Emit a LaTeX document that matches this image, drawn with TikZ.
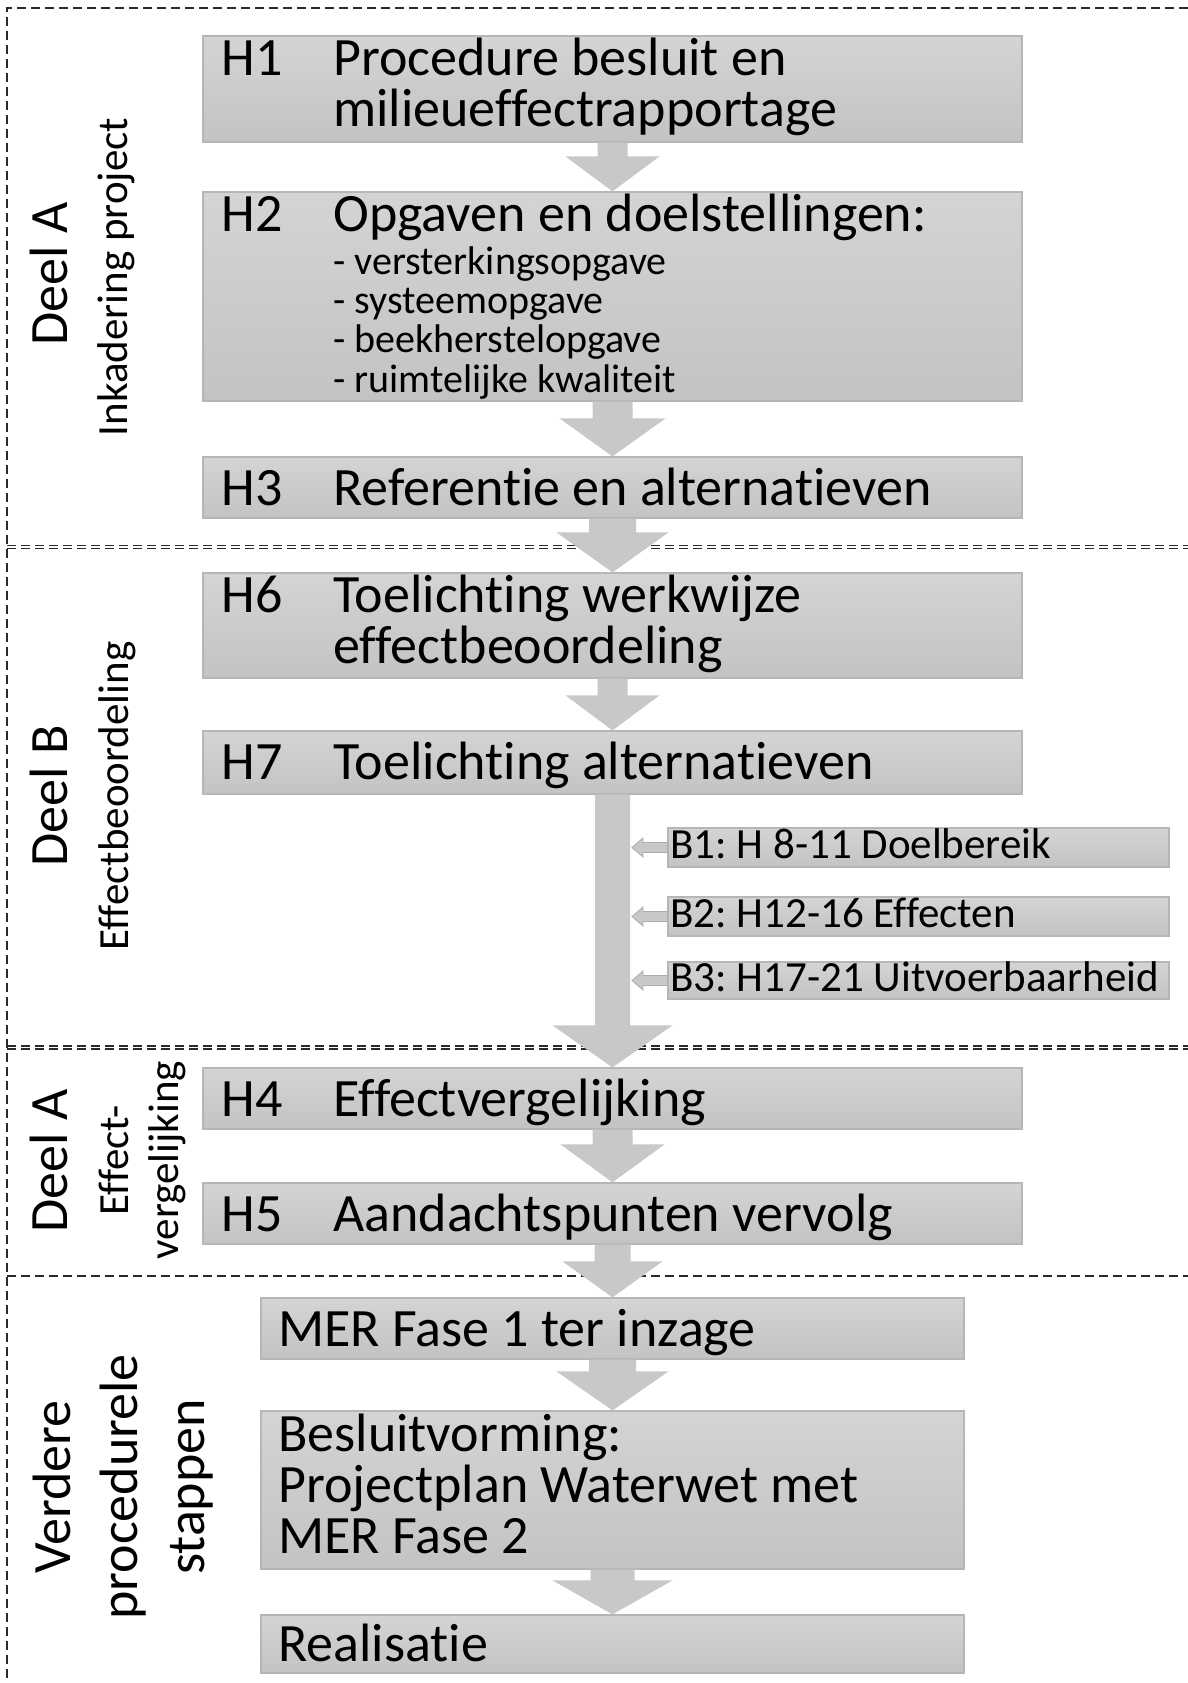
\documentclass[tikz,border=0pt]{standalone}
\usepackage{fontspec}
\setmainfont{Carlito}[Ligatures=NoCommon]
\usetikzlibrary{calc,fit}
\frenchspacing

\definecolor{boxtop}{HTML}{D4D4D4}
\definecolor{boxbot}{HTML}{C3C3C3}
\definecolor{boxline}{HTML}{B6B6B6}
\definecolor{arrowfill}{HTML}{C8C8C8}
\definecolor{arrowline}{HTML}{ADADAD}
\definecolor{frameline}{HTML}{2A2A2A}

\tikzset{
  frame/.style={draw=frameline, line width=0.65pt, dash pattern=on 4.5pt off 2.5pt},
  stepbox/.style={draw=boxline, line width=0.6pt, top color=boxtop, bottom color=boxbot, inner sep=0pt},
  maintext/.style={font=\fontsize{27}{25.5}\selectfont, inner sep=0pt, anchor=base west, align=left},
  subtext/.style={font=\fontsize{20}{19.6}\selectfont, inner sep=0pt, anchor=base west, align=left},
  btext/.style={font=\fontsize{21.5}{24}\selectfont, inner sep=0pt, anchor=base west},
  sidebig/.style={font=\fontsize{27}{33.5}\selectfont, inner sep=0pt, anchor=base, rotate=90, align=center},
  sidesmall/.style={font=\fontsize{21.5}{25}\selectfont, inner sep=0pt, anchor=base, rotate=90, align=center},
  arrowbody/.style={fill=arrowfill},
  smallarrow/.style={fill=arrowfill, draw=arrowline, line width=0.4pt},
}

% block arrow from the bottom of one box to the top of the next
% #1 from, #2 to, #3 shaft half width, #4 head half width, #5 head length (px)
\newcommand\fatarrow[5]{%
  \fill[arrowbody] let \p1=(#1.south), \p2=(#2.north) in
    ({\x1-#3*0.5pt},\y1) -- ({\x1+#3*0.5pt},\y1)
    -- ({\x1+#3*0.5pt},{\y2+#5*0.5pt}) -- ({\x1+#4*0.5pt},{\y2+#5*0.5pt})
    -- (\x1,\y2)
    -- ({\x1-#4*0.5pt},{\y2+#5*0.5pt}) -- ({\x1-#3*0.5pt},{\y2+#5*0.5pt}) -- cycle;
}
% small arrow from the left side of a side box to a tip coordinate
\newcommand\sidearrow[2]{%
  \filldraw[smallarrow] let \p1=(#1.west), \p2=(#2) in
    (\x1,{\y1+2.5pt}) -- ({\x2+5.5pt},{\y1+2.5pt}) -- ({\x2+5.5pt},{\y1+4.75pt})
    -- (\x2,\y1)
    -- ({\x2+5.5pt},{\y1-4.75pt}) -- ({\x2+5.5pt},{\y1-2.5pt}) -- (\x1,{\y1-2.5pt}) -- cycle;
}

\begin{document}
\begin{tikzpicture}[x=0.5pt,y=-0.5pt]
\useasboundingbox (0,0) rectangle (1188,1683);

% dashed section frames
\draw[frame] (1188,8) -- (7,8) -- (7,1683);
\draw[frame] (7,545.5) -- (1188,545.5);
\draw[frame] (7,548.5) -- (1188,548.5);
\draw[frame] (7,1046) -- (1188,1046);
\draw[frame] (7,1049) -- (1188,1049);
\draw[frame] (7,1276) -- (1188,1276);

% chapter boxes
\node[stepbox, fit={(203,36) (1022,142)}] (h1) {};
\node[stepbox, fit={(203,192) (1022,401)}] (h2) {};
\node[stepbox, fit={(203,457) (1022,518)}] (h3) {};
\node[stepbox, fit={(203,573) (1022,678)}] (h6) {};
\node[stepbox, fit={(203,731) (1022,794)}] (h7) {};
\node[stepbox, fit={(203,1068) (1022,1129)}] (h4) {};
\node[stepbox, fit={(203,1183) (1022,1244)}] (h5) {};
\node[stepbox, fit={(261,1298) (964,1359)}] (mer) {};
\node[stepbox, fit={(261,1411) (964,1569)}] (bes) {};
\node[stepbox, fit={(261,1615) (964,1673)}] (real) {};
\node[stepbox, fit={(668,828) (1169,867)}] (b1) {};
\node[stepbox, fit={(668,897) (1169,936)}] (b2) {};
\node[stepbox, fit={(668,962) (1169,999)}] (b3) {};

% box texts (multi-line texts are placed by the baseline of their last line)
\node[maintext] (h1l) at (221,75) {H1};
\node[maintext] (h1t) at (333,126) {Procedure besluit en\\milieueffectrapportage};
\node[maintext] (h2l) at (221,231) {H2};
\node[maintext] (h2t) at (333,231) {Opgaven en doelstellingen:};
\node[subtext] (h2s) at (333,392) {- versterkingsopgave\\- systeemopgave\\- beekherstelopgave\\- ruimtelijke kwaliteit};
\node[maintext] (h3l) at (221,505) {H3};
\node[maintext] (h3t) at (333,505) {Referentie en alternatieven};
\node[maintext] (h6l) at (221,612) {H6};
\node[maintext] (h6t) at (333,663) {Toelichting werkwijze\\effectbeoordeling};
\node[maintext] (h7l) at (221,779) {H7};
\node[maintext] (h7t) at (333,779) {Toelichting alternatieven};
\node[maintext] (h4l) at (221,1116) {H4};
\node[maintext] (h4t) at (333,1116) {Effectvergelijking};
\node[maintext] (h5l) at (221,1231) {H5};
\node[maintext] (h5t) at (333,1231) {Aandachtspunten vervolg};
\node[maintext] (mert) at (278,1346) {MER Fase 1 ter inzage};
\node[maintext] (best) at (278,1553) {Besluitvorming:\\Projectplan Waterwet met\\MER Fase 2};
\node[maintext] (realt) at (278,1661) {Realisatie};
\node[btext] (b1t) at (670,858) {B1: H 8-11 Doelbereik};
\node[btext] (b2t) at (670,927) {B2: H12-16 Effecten};
\node[btext] (b3t) at (670,991) {B3: H17-21 Uitvoerbaarheid};

% section labels
\node[sidebig] (sA1) at (67,274) {Deel A};
\node[sidesmall] (sA1s) at (127,277) {Inkadering project};
\node[sidebig] (sB) at (67,796) {Deel B};
\node[sidesmall] (sBs) at (128,796) {Effectbeoordeling};
\node[sidebig] (sA2) at (68,1161) {Deel A};
\node[sidesmall] (sA2s) at (178,1160) {Effect-\\vergelijking};
\node[sidebig] (sV) at (204,1487) {Verdere\\procedurele\\stappen};

% flow arrows
\fatarrow{h1}{h2}{15}{47}{35}
\fatarrow{h2}{h3}{20}{53}{38}
\fatarrow{h3}{h6}{23.5}{56}{40}
\fatarrow{h6}{h7}{15}{47}{35}
\fatarrow{h7}{h4}{17.5}{60}{42}
\fatarrow{h4}{h5}{20}{52}{38}
\fatarrow{h5}{mer}{18}{50}{36}
\fatarrow{mer}{bes}{23.5}{56}{39}
\fatarrow{bes}{real}{22}{60}{34}

% side arrows into the long arrow
\coordinate (spine) at (632,0);
\coordinate (t1) at (b1.west -| spine);
\coordinate (t2) at (b2.west -| spine);
\coordinate (t3) at (b3.west -| spine);
\sidearrow{b1}{t1}
\sidearrow{b2}{t2}
\sidearrow{b3}{t3}
\end{tikzpicture}
\end{document}
